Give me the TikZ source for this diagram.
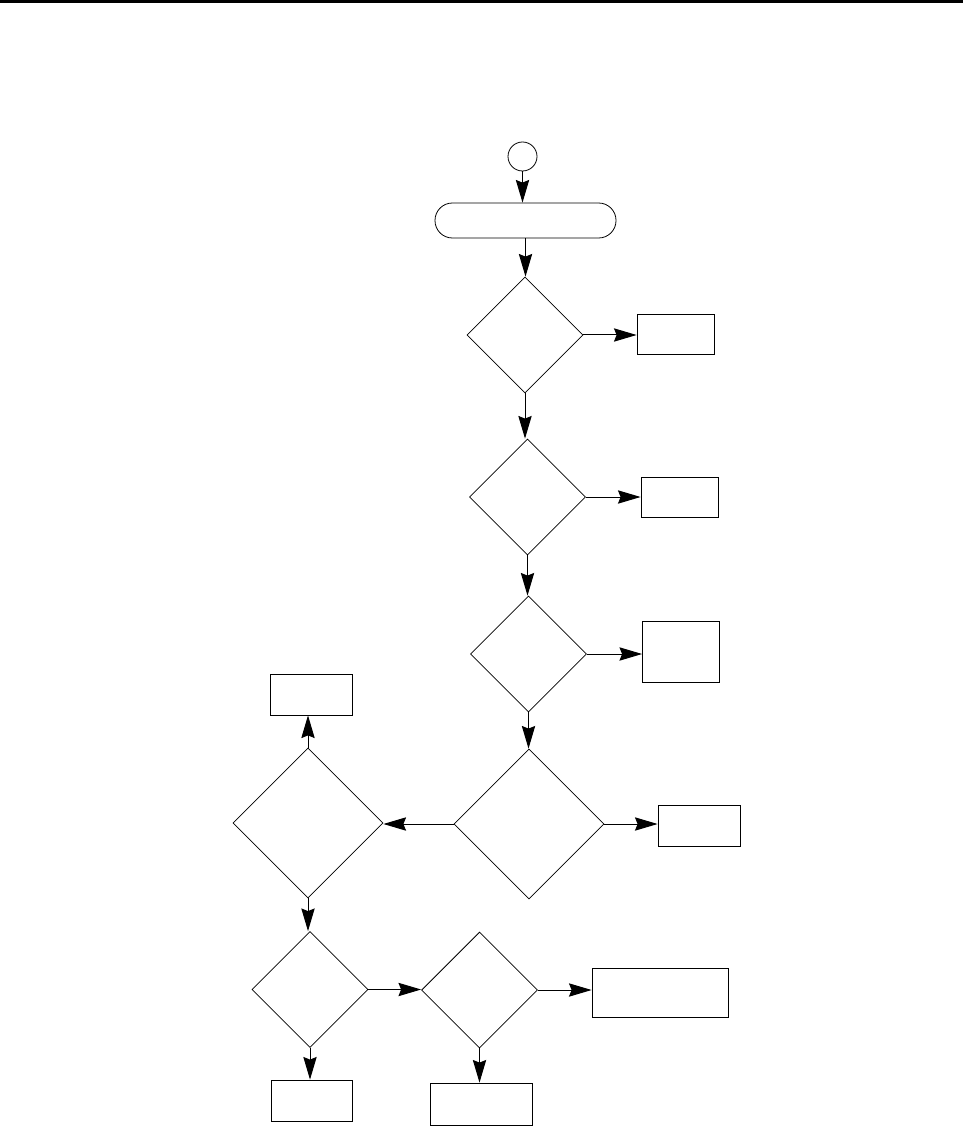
\documentclass[tikz,border=0pt]{standalone}
\usepackage{tikz}
\usetikzlibrary{shapes.geometric, arrows.meta, positioning}

\begin{document}
\begin{tikzpicture}[
  x=0.75pt, y=-0.75pt,
  % ---- Node styles (empty outlines) ----
  base/.style={draw, line width=0.6pt, inner sep=0pt, text depth=0pt},
  Sstart/.style={base, circle, minimum size=21.75pt},
  Sterm/.style ={base, rectangle, rounded corners=13pt,
    minimum width=135.75pt, minimum height=26.25pt},
  Sdec/.style  ={base, diamond, minimum width=87pt, minimum height=87pt},
  Sbig/.style  ={base, diamond, minimum width=112.5pt, minimum height=112.5pt},
  Sbox/.style  ={base, rectangle, minimum width=57.75pt, minimum height=30pt},
  % ---- Arrow style ----
  fwd/.style={-{Stealth[length=17pt, width=10pt, inset=2pt]}, line width=0.75pt},
]
\useasboundingbox (0,0) rectangle (963,1126);
% ---- Page rule ----
\coordinate (ruleL) at (0,1.5);
\coordinate (ruleR) at (963,1.5);
\draw[line width=2.25pt] (ruleL) -- (ruleR);

% ---- Main column ----
\node[Sstart] (start) at (522.5,156.5) {};
\node[Sterm]  (init)  at (525.5,220.5) {};
\node[Sdec]   (dec1)  at (525,335)     {};
\node[Sdec]   (dec2)  at (527.5,497)   {};
\node[Sdec]   (dec3)  at (528.5,654)   {};
\node[Sbig]   (dec4)  at (529,824)     {};

% ---- Outcome boxes on the right ----
\node[Sbox] (out1) at (675.5,334) {};
\node[Sbox] (out2) at (679.5,497) {};
\node[Sbox, minimum height=45.75pt] (out3) at (681,651.5) {};
\node[Sbox, minimum width=61.5pt, minimum height=30.75pt] (out4) at (699,825.5) {};

% ---- Left branch ----
\node[Sbig] (dec5) at (308,823)   {};
\node[Sbox, minimum width=61.5pt, minimum height=30.75pt] (out5) at (311,694.5) {};
\node[Sdec] (dec6) at (310,989.5) {};
\node[Sdec] (dec7) at (479.5,990) {};
\node[Sbox, minimum width=60.75pt, minimum height=30.75pt] (out6) at (311.5,1100.5) {};
\node[Sbox, minimum width=76.5pt, minimum height=31.5pt]   (out7) at (481,1104)    {};
\node[Sbox, minimum width=102pt, minimum height=36.75pt]   (out8) at (660,992.5)   {};

% ---- Main flow (downwards) ----
\draw[fwd] (start.south) -- (start.south |- init.north);
\draw[fwd] (init.south) -- (init.south |- dec1.north);
\draw[fwd] (dec1.south) -- (dec1.south |- dec2.north);
\draw[fwd] (dec2.south) -- (dec2.south |- dec3.north);
\draw[fwd] (dec3.south) -- (dec3.south |- dec4.north);

% ---- Exits to the right ----
\draw[fwd] (dec1.east) -- (dec1.east -| out1.west);
\draw[fwd] (dec2.east) -- (dec2.east -| out2.west);
\draw[fwd] (dec3.east) -- (dec3.east -| out3.west);
\draw[fwd] (dec4.east) -- (dec4.east -| out4.west);

% ---- Left branch ----
\draw[fwd] (dec4.west) -- (dec4.west -| dec5.east);
\draw[fwd] (dec5.north) -- (dec5.north |- out5.south);
\draw[fwd] (dec5.south) -- (dec5.south |- dec6.north);
\draw[fwd] (dec6.east) -- (dec6.east -| dec7.west);
\draw[fwd] (dec6.south) -- (dec6.south |- out6.north);
\draw[fwd] (dec7.east) -- (dec7.east -| out8.west);
\draw[fwd] (dec7.south) -- (dec7.south |- out7.north);
\end{tikzpicture}
\end{document}
